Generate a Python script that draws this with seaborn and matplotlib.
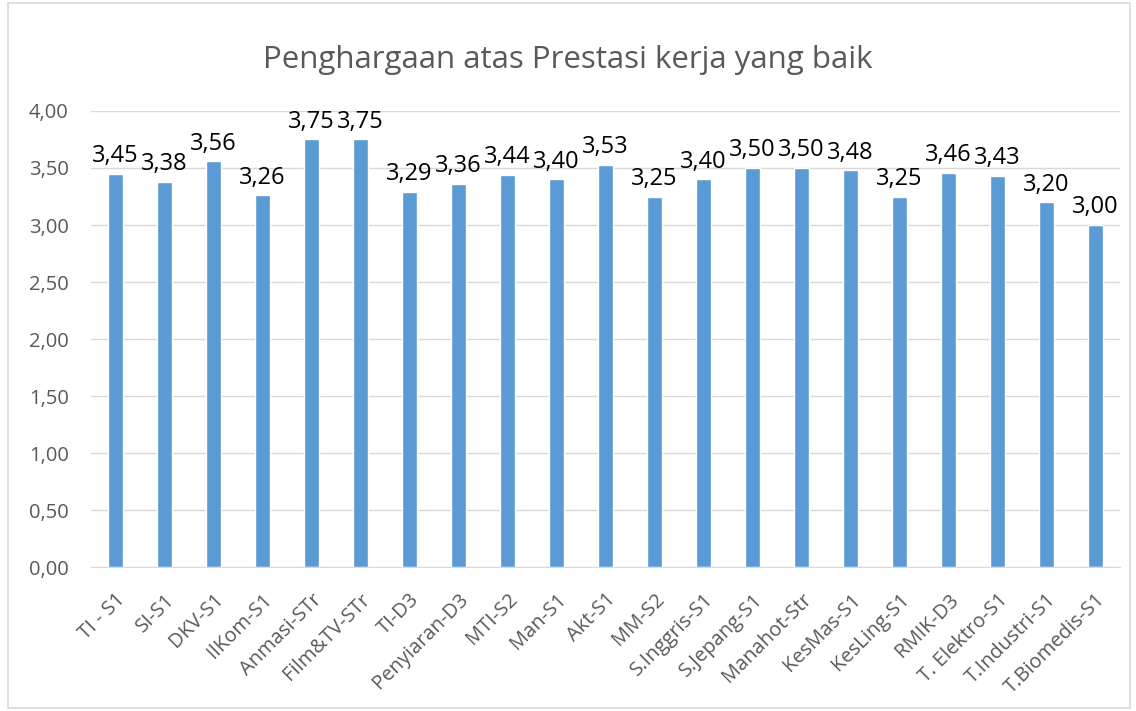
import seaborn as sns
import matplotlib.pyplot as plt
import pandas as pd
from matplotlib.patches import Rectangle

programs = ["TI - S1", "SI-S1", "DKV-S1", "IlKom-S1", "Anmasi-STr", "Film&TV-STr",
            "TI-D3", "Penyiaran-D3", "MTI-S2", "Man-S1", "Akt-S1", "MM-S2",
            "S.Inggris-S1", "S.Jepang-S1", "Manahot-Str", "KesMas-S1", "KesLing-S1",
            "RMIK-D3", "T. Elektro-S1", "T.Industri-S1", "T.Biomedis-S1"]
scores = [3.45, 3.38, 3.56, 3.26, 3.75, 3.75, 3.29, 3.36, 3.44, 3.40, 3.53, 3.25,
          3.40, 3.50, 3.50, 3.48, 3.25, 3.46, 3.43, 3.20, 3.00]
yticks = [0, 0.5, 1.0, 1.5, 2.0, 2.5, 3.0, 3.5, 4.0]

df = pd.DataFrame({"Program": programs, "Score": scores})

sns.set_style("white")
plt.rcParams["font.family"] = ["Open Sans", "DejaVu Sans"]

fig = plt.figure(figsize=(11.36, 7.11), dpi=100)
ax = fig.add_axes([0.080, 0.202, 0.906, 0.642])

sns.barplot(data=df, x="Program", y="Score", color="#5B9BD5", saturation=1,
            width=0.31, ax=ax)

ax.set_ylim(0, 4)
ax.set_xlim(-0.5, len(programs) - 0.5)
ax.set_yticks(yticks)
ax.set_yticklabels([f"{v:.2f}".replace(".", ",") for v in yticks],
                   fontsize=14.5, color="#595959")
ax.set_xticks(range(len(programs)))
ax.set_xticklabels(programs, rotation=45, ha="right", rotation_mode="anchor",
                   fontsize=14.5, color="#595959")
ax.tick_params(axis="y", length=0, pad=16)
ax.tick_params(axis="x", length=0, pad=16)
ax.set_xlabel("")
ax.set_ylabel("")
ax.yaxis.grid(True, color="#D9D9D9", linewidth=1)
ax.set_axisbelow(True)
for side in ["top", "right", "left"]:
    ax.spines[side].set_visible(False)
ax.spines["bottom"].set_color("#D9D9D9")

for i, v in enumerate(scores):
    ax.annotate(f"{v:.2f}".replace(".", ","), (i, v), xytext=(0, 4),
                textcoords="offset points", ha="center", va="bottom",
                fontsize=17, color="#000000")

fig.text(0.5, 0.916, "Penghargaan atas Prestasi kerja yang baik", ha="center",
         va="center", fontsize=22.5, color="#595959")

fig.patches.append(Rectangle((0.007, 0.004), 0.988, 0.992, transform=fig.transFigure,
                             fill=False, edgecolor="#D9D9D9", linewidth=1.2))

plt.savefig("out.png", dpi=100)
plt.close()
